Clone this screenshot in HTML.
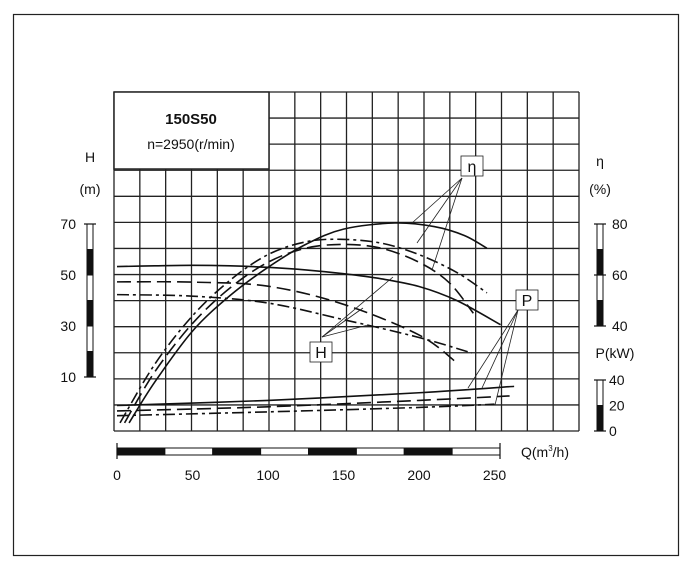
<!DOCTYPE html>
<html><head><meta charset="utf-8"><style>
body{margin:0;background:#fff}
svg text{font-family:"Liberation Sans",Arial,sans-serif;fill:#111}
</style></head><body>
<svg width="692" height="569" viewBox="0 0 692 569" xmlns="http://www.w3.org/2000/svg">
<rect x="13.5" y="14.5" width="665" height="541" fill="#fff" stroke="#222" stroke-width="1.2"/>
<g id="grid"></g>
<rect x="114" y="92" width="155" height="77" fill="#fff"/>
<rect x="114" y="92" width="155" height="77" fill="none" stroke="#222" stroke-width="1.5"/>
<text x="191" y="124" font-size="15" font-weight="bold" text-anchor="middle">150S50</text>
<text x="191" y="149" font-size="14" text-anchor="middle">n=2950(r/min)</text>
<g id="curves"></g>
<g id="leaders" stroke="#222" stroke-width="0.8"></g>
<text x="90" y="162" font-size="14" text-anchor="middle">H</text>
<text x="90" y="194" font-size="14" text-anchor="middle">(m)</text>
<text x="600" y="166" font-size="14" text-anchor="middle">η</text>
<text x="600" y="194" font-size="14" text-anchor="middle">(%)</text>
<text x="615" y="358" font-size="14" text-anchor="middle">P(kW)</text>
<text x="521" y="457" font-size="14">Q(m<tspan font-size="8" dy="-6">3</tspan><tspan dy="6">/h)</tspan></text>
<g id="axes"></g>
</svg>
<script>
const qTicks=[0,50,100,150,200,250];
const hTicks=[10,30,50,70];
const etaTicks=[40,60,80];
const pTicks=[0,20,40];
const hSolid=[[0,53.3],[25,53.6],[50,53.8],[75,53.6],[100,53],[125,52],[150,50.5],[175,48.5],[200,45.5],[225,40],[254,30.5]];
const hDashed=[[0,47.3],[50,47.2],[100,45.6],[150,38.5],[200,26.5],[225,15.6]];
const hDashDot=[[0,42.3],[50,41.7],[100,39],[150,32.5],[200,25.5],[235,19.4]];
const etaSolid=[[8,2],[25,18],[50,38],[75,52],[100,63],[125,72],[150,78],[184,80.4],[210,79],[230,75.5],[245,70.5]];
const etaDashed=[[5,2],[25,22],[50,41],[75,55],[100,65],[125,70.5],[150,72],[175,70.5],[200,65],[220,57],[236,45]];
const etaDashDot=[[2,2],[25,25],[50,44],[75,58],[100,68],[125,73],[148,74],[175,72.5],[200,68],[225,61],[245,53]];
const pSolid=[[0,20],[100,24],[200,30],[263,35]];
const pDashed=[[0,15.7],[100,19],[200,24],[260,27.5]];
const pDashDot=[[0,12],[100,15],[200,18.5],[250,21]];

const NS="http://www.w3.org/2000/svg";
const X=q=>117+q*1.51;
const YH=h=>224+(70-h)*2.55;
const YE=e=>224+(80-e)*2.55;
const YP=p=>431-p*1.275;
function mk(t,a,parent){const e=document.createElementNS(NS,t);for(const k in a)e.setAttribute(k,a[k]);document.getElementById(parent).appendChild(e);return e;}

// grid
for(let i=0;i<=18;i++){const x=114+i*(465/18);
 const l=mk('line',{x1:x,x2:x,y1:92,y2:431,stroke:'#222','stroke-width':1.3},'grid');
 }
for(let j=0;j<=13;j++){const y=92+j*(339/13);
 const l=mk('line',{x1:114,x2:579,y1:y,y2:y,stroke:'#222','stroke-width':1.3},'grid');
 }

function smooth(pts){let d=`M${pts[0][0]},${pts[0][1]}`;
 for(let i=0;i<pts.length-1;i++){const p0=pts[i-1]||pts[i],p1=pts[i],p2=pts[i+1],p3=pts[i+2]||p2;
  d+=` C${p1[0]+(p2[0]-p0[0])/6},${p1[1]+(p2[1]-p0[1])/6} ${p2[0]-(p3[0]-p1[0])/6},${p2[1]-(p3[1]-p1[1])/6} ${p2[0]},${p2[1]}`;}
 return d;}
const styles={solid:'none',dashed:'14 6',dashdot:'12 4 3 4'};
function curve(data,fy,st,name){const pts=data.map(d=>[X(d[0]),fy(d[1])]);
 const p=mk('path',{d:smooth(pts),fill:'none',stroke:'#111','stroke-width':1.6,'stroke-dasharray':styles[st]},'curves');
 }
curve(hSolid,YH,'solid','h-curve-solid');
curve(hDashed,YH,'dashed','h-curve-dashed');
curve(hDashDot,YH,'dashdot','h-curve-dashdot');
curve(etaSolid,YE,'solid','eta-curve-solid');
curve(etaDashed,YE,'dashed','eta-curve-dashed');
curve(etaDashDot,YE,'dashdot','eta-curve-dashdot');
curve(pSolid,YP,'solid','p-curve-solid');
curve(pDashed,YP,'dashed','p-curve-dashed');
curve(pDashDot,YP,'dashdot','p-curve-dashdot');

// leader lines and labels
const leaders=[[462,178,412,223],[462,178,417,243],[462,178,432,270],[322,337,393,277],[322,337,363,308],[322,337,368,325],[518,310,468,388],[518,310,482,388],[518,310,495,405]];
leaders.forEach(l=>{const e=mk('line',{x1:l[0],y1:l[1],x2:l[2],y2:l[3]},'leaders');
 });
[['η',472,166,'eta-curve-label'],['H',321,352,'h-curve-label'],['P',527,300,'p-curve-label']].forEach(t=>{
 const r=mk('rect',{x:t[1]-11,y:t[2]-10,width:22,height:20,fill:'#fff'},'leaders');
 
 const e=mk('text',{x:t[1],y:t[2]+6,'font-size':16,'text-anchor':'middle',stroke:'none'},'leaders');e.textContent=t[0];
 });

// Q axis bar
const qb=[117,500];
for(let i=0;i<8;i++){const x0=qb[0]+i*(qb[1]-qb[0])/8;
 const r=mk('rect',{x:x0,y:448,width:(qb[1]-qb[0])/8,height:7,fill:i%2?'#fff':'#111',stroke:'#111','stroke-width':1},'axes');
 }
[qb[0],qb[1]].forEach(x=>{const l=mk('line',{x1:x,x2:x,y1:443,y2:459,stroke:'#111','stroke-width':1.2},'axes');
 });
qTicks.forEach(q=>{const t=mk('text',{x:X(q),y:480,'font-size':14,'text-anchor':'middle'},'axes');t.textContent=q;
 });

function vbar(x,y0,y1,n,first,name){const h=(y1-y0)/n;
 for(let i=0;i<n;i++){const r=mk('rect',{x:x,y:y0+i*h,width:6,height:h,fill:(i%2===0)===(first==='w')?'#fff':'#111',stroke:'#111','stroke-width':1},'axes');
  }}
vbar(87,YH(70),YH(10),6,'w','h-scale-segment');
vbar(597,YE(80),YE(40),4,'w','eta-scale-segment');
vbar(597,YP(40),YP(0),2,'w','p-scale-segment');
[[YE(80)],[YE(60)],[YE(40)],[YP(40)],[YP(0)]].forEach(v=>{const l=mk('line',{x1:594,x2:606,y1:v[0],y2:v[0],stroke:'#111','stroke-width':1.2},'axes');
 });
[YH(70),YH(10)].forEach(y=>{const l=mk('line',{x1:84,x2:96,y1:y,y2:y,stroke:'#111','stroke-width':1.2},'axes');
 });
hTicks.forEach(h=>{const t=mk('text',{x:76,y:YH(h)+5,'font-size':14,'text-anchor':'end'},'axes');t.textContent=h;
 });
etaTicks.forEach(e=>{const t=mk('text',{x:612,y:YE(e)+5,'font-size':14},'axes');t.textContent=e;
 });
pTicks.forEach(p=>{const t=mk('text',{x:609,y:YP(p)+5,'font-size':14},'axes');t.textContent=p;
 });
</script>
</body></html>
